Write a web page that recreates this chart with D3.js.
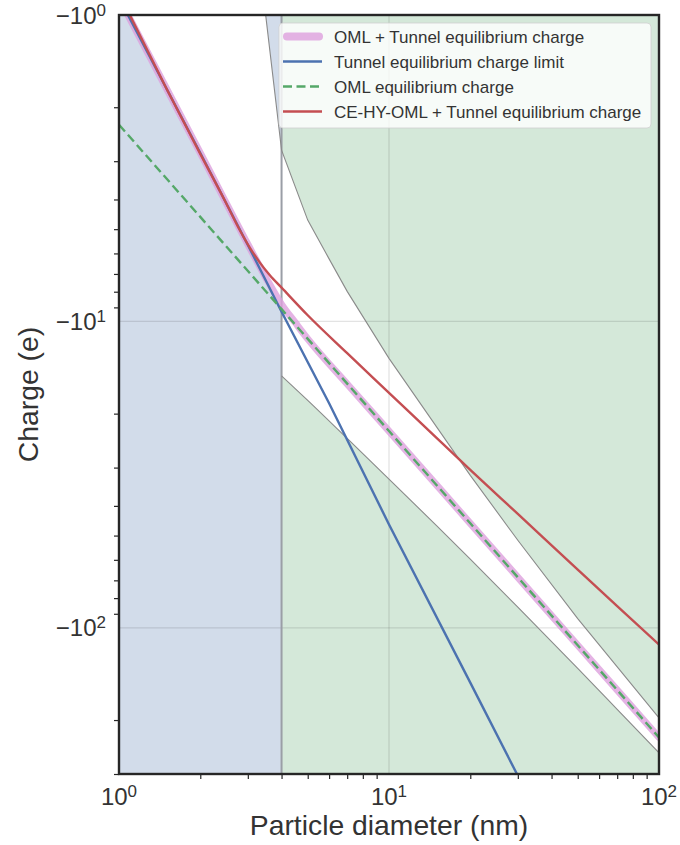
<!DOCTYPE html>
<html><head><meta charset="utf-8">
<script src="https://cdn.jsdelivr.net/npm/d3@7"></script>
<style>
body{margin:0;background:#fff}
svg{display:block;font-family:"Liberation Sans",Arial,Helvetica,sans-serif}
</style>
</head><body><svg id="chart" width="680" height="845"></svg>
<script>
// ---------------- data (diameter in nm, charge in e) ----------------
const tunnelD = [1, 2, 3, 4, 6, 10, 20, 30];
const tunnelQ = [-0.88, -2.82, -5.63, -9.3, -18.5, -46, -151, -304];

const omlD = [1, 2, 4, 10, 20, 50, 100];
const omlQ = [-2.28, -4.56, -9.12, -22.8, -45.6, -114, -228];

const combD = [1, 2, 3, 3.5, 4, 4.5, 5, 7, 10, 20, 50, 100];
const combQ = [-0.88, -2.82, -5.6, -7.2, -8.8, -10.1, -11.4, -16.0, -22.8, -45.6, -114, -228];

const ceD = [1, 1.5, 2, 2.5, 2.8, 3.05, 3.33, 3.62, 4, 5, 7, 10, 15, 20, 30, 50, 70, 100];
const ceQ = [-0.85, -1.74, -2.84, -4.13, -5.03, -5.74, -6.44, -7.07, -7.76, -9.55, -12.7, -17.1, -24.0, -30.5, -42.5, -64.6, -85.0, -113.4];

const upperD = [3, 4, 5, 6, 7, 10, 20, 30, 50, 100];
const upperQ = [-0.32, -2.76, -4.67, -6.25, -7.98, -13.2, -31.8, -51.8, -93.3, -196.7];

const lowerD = [4, 5, 7, 10, 15, 20, 30, 50, 70, 100];
const lowerQ = [-15.06, -18.1, -24.1, -32.7, -46.4, -59.7, -85.6, -135.7, -184.5, -255.7];

const regionStart = [1, 4];
const regionEnd = [4, 100];
const regionColors = ["#d2dcea", "#d4e8d9"];
const splitD = 4;

const xMajor = [1, 10, 100];
const xMajorBase = ["10", "10", "10"];
const xMajorExp = ["0", "1", "2"];
const yMajor = [1, 10, 100];
const yMajorBase = ["\u221210", "\u221210", "\u221210"];
const yMajorExp = ["0", "1", "2"];

const legendLabels = ["OML + Tunnel equilibrium charge", "Tunnel equilibrium charge limit", "OML equilibrium charge", "CE-HY-OML + Tunnel equilibrium charge"];

// ---------------- layout ----------------
const L = 119, R = 659, T = 15, B = 774;
const x = d3.scaleLog().domain([1, 100]).range([L, R]);
const y = d3.scaleLog().domain([1, 300]).range([T, B]);
const pts = (D, Q) => D.map((d, i) => [d, Q[i]]);
const line = d3.line().x(p => x(p[0])).y(p => y(Math.abs(p[1])));
const smooth = d3.line().x(p => x(p[0])).y(p => y(Math.abs(p[1]))).curve(d3.curveMonotoneX);

const svg = d3.select("#chart");
svg.append("defs").append("clipPath").attr("id", "clip")
  .append("rect").attr("x", L).attr("y", T).attr("width", R - L).attr("height", B - T);
const plot = svg.append("g").attr("clip-path", "url(#clip)");

// region shading
regionStart.forEach((s, i) => {
  plot.append("rect").attr("x", x(s)).attr("y", T)
    .attr("width", x(regionEnd[i]) - x(s)).attr("height", B - T)
    .attr("fill", regionColors[i]);
});

// white band
const bandPts = pts(upperD, upperQ)
  .concat(pts(lowerD, lowerQ).reverse())
  .concat(pts(tunnelD, tunnelQ).filter(p => p[0] <= splitD).reverse());
plot.append("path").attr("d", line(bandPts) + "Z").attr("fill", "#ffffff");

// grid
xMajor.forEach(v => {
  plot.append("line").attr("x1", x(v)).attr("x2", x(v)).attr("y1", T).attr("y2", B)
    .attr("stroke", "#000").attr("stroke-opacity", 0.11).attr("stroke-width", 1.3);
});
yMajor.forEach(v => {
  plot.append("line").attr("x1", L).attr("x2", R).attr("y1", y(v)).attr("y2", y(v))
    .attr("stroke", "#000").attr("stroke-opacity", 0.11).attr("stroke-width", 1.3);
});

// split line
plot.append("line").attr("x1", x(splitD)).attr("x2", x(splitD)).attr("y1", T).attr("y2", B)
  .attr("stroke", "#9a9ea6").attr("stroke-width", 2);

// band boundaries
plot.append("path").attr("d", line(pts(upperD, upperQ))).attr("fill", "none")
  .attr("stroke", "#8a8a8a").attr("stroke-width", 1.1);
plot.append("path").attr("d", smooth(pts(lowerD, lowerQ))).attr("fill", "none")
  .attr("stroke", "#8a8a8a").attr("stroke-width", 1.1);

// series
plot.append("path").attr("d", smooth(pts(combD, combQ))).attr("fill", "none")
  .attr("stroke", "#dda0dd").attr("stroke-opacity", 0.8).attr("stroke-width", 7).attr("stroke-linecap", "round");
plot.append("path").attr("d", line(pts(tunnelD, tunnelQ))).attr("fill", "none")
  .attr("stroke", "#4c72b0").attr("stroke-width", 2.4);
plot.append("path").attr("d", line(pts(omlD, omlQ))).attr("fill", "none")
  .attr("stroke", "#55a868").attr("stroke-width", 2.4).attr("stroke-dasharray", "9,4.5");
plot.append("path").attr("d", smooth(pts(ceD, ceQ))).attr("fill", "none")
  .attr("stroke", "#c44e52").attr("stroke-width", 2.4);

// ticks (minor, via d3 axes)
const isMajor = v => Math.abs(Math.log10(v) - Math.round(Math.log10(v))) < 1e-9;
const xMinor = x.ticks().filter(v => !isMajor(v));
const yMinor = y.ticks().filter(v => !isMajor(v));
const gx = svg.append("g").attr("transform", `translate(0,${B})`)
  .call(d3.axisBottom(x).tickValues(xMinor).tickSize(5).tickFormat(""));
const gy = svg.append("g").attr("transform", `translate(${L},0)`)
  .call(d3.axisLeft(y).tickValues(yMinor).tickSize(5).tickFormat(""));
[gx, gy].forEach(g => {
  g.select(".domain").remove();
  g.selectAll(".tick line").attr("stroke", "#262626").attr("stroke-width", 1.2);
});

// major tick labels
xMajor.forEach((v, i) => {
  const t = svg.append("text").attr("x", x(v)).attr("y", 805).attr("text-anchor", "middle")
    .attr("font-size", 24).attr("fill", "#333");
  t.append("tspan").text(xMajorBase[i]);
  t.append("tspan").attr("dy", -8).attr("font-size", 17).text(xMajorExp[i]);
});
yMajor.forEach((v, i) => {
  const t = svg.append("text").attr("x", 106).attr("y", y(v) + 8.5).attr("text-anchor", "end")
    .attr("font-size", 24).attr("fill", "#333");
  t.append("tspan").text(yMajorBase[i]);
  t.append("tspan").attr("dy", -8).attr("font-size", 17).text(yMajorExp[i]);
});

// frame
svg.append("rect").attr("x", L).attr("y", T).attr("width", R - L).attr("height", B - T)
  .attr("fill", "none").attr("stroke", "#262626").attr("stroke-width", 2.4);

// axis labels
svg.append("text").attr("x", (L + R) / 2).attr("y", 835).attr("text-anchor", "middle")
  .attr("font-size", 28.3).attr("fill", "#333").text("Particle diameter (nm)");
svg.append("text").attr("transform", `translate(37.5,${(T + B) / 2}) rotate(-90)`)
  .attr("text-anchor", "middle").attr("font-size", 28.3).attr("fill", "#333").text("Charge (e)");

// legend
const lg = svg.append("g");
lg.append("rect").attr("x", 279).attr("y", 23).attr("width", 372).attr("height", 105).attr("rx", 4)
  .attr("fill", "#fff").attr("fill-opacity", 0.8).attr("stroke", "#d0d0d0").attr("stroke-opacity", 0.8);
const styles = [
  {c: "#dda0dd", w: 8, o: 0.8, dash: null, cap: "round"},
  {c: "#4c72b0", w: 2.4, o: 1, dash: null, cap: "butt"},
  {c: "#55a868", w: 2.4, o: 1, dash: "9,4.5", cap: "butt"},
  {c: "#c44e52", w: 2.4, o: 1, dash: null, cap: "butt"}
];
legendLabels.forEach((lab, i) => {
  const cy = 36.5 + i * 25;
  const s = styles[i];
  const hx1 = s.cap === "round" ? 287 : 283, hx2 = s.cap === "round" ? 319 : 322;
  lg.append("line").attr("x1", hx1).attr("x2", hx2).attr("y1", cy).attr("y2", cy)
    .attr("stroke", s.c).attr("stroke-width", s.w).attr("stroke-opacity", s.o)
    .attr("stroke-linecap", s.cap).attr("stroke-dasharray", s.dash);
  lg.append("text").attr("x", 334).attr("y", cy + 6).attr("font-size", 17).attr("fill", "#333").text(lab);
});
</script>
</body></html>
